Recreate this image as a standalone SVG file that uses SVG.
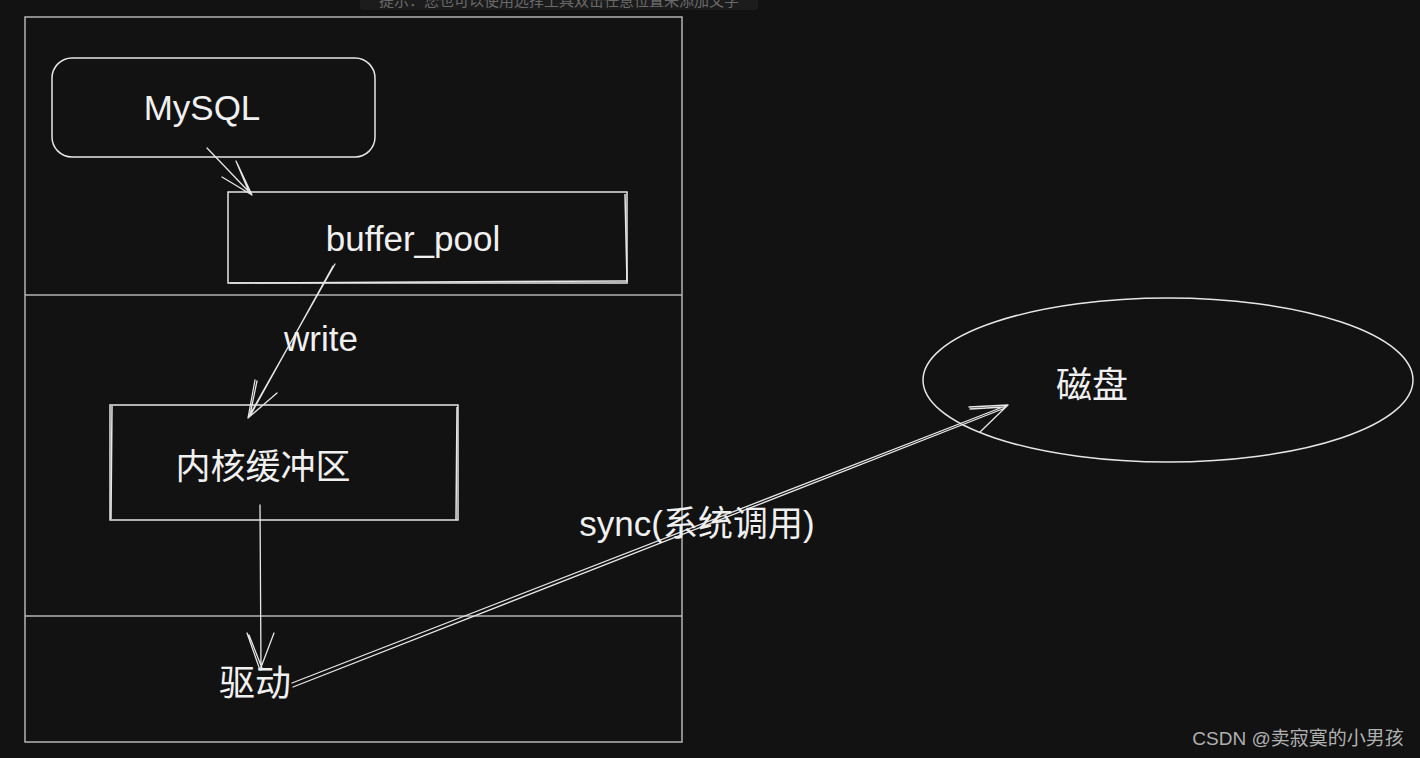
<svg xmlns="http://www.w3.org/2000/svg" width="1420" height="758" viewBox="0 0 1420 758">
<style>
.frame{fill:none;stroke:#b4b4b4;stroke-width:1.5}
.node{fill:none;stroke:#e6e6e6;stroke-width:1.5}
.edge{fill:none;stroke:#e6e6e6;stroke-width:1.3;stroke-linecap:round}
.lbl{font-family:"Liberation Sans","Noto Sans CJK SC",sans-serif;fill:#f0f0f0;text-anchor:middle}
</style>
<rect width="1420" height="758" fill="#121212"/>
<g id="tooltip">
<rect x="360" y="-20" width="398" height="30" rx="4" fill="#1c1c1c"/>
<text x="559" y="6" font-family="'Noto Sans CJK SC',sans-serif" font-size="15" fill="#6a6a6a" text-anchor="middle">提示：您也可以使用选择工具双击任意位置来添加文字</text>
</g>
<g id="frame">
<rect class="frame" x="25" y="17" width="657" height="725"/>
<line class="frame" x1="25" y1="295" x2="682" y2="295"/>
<line class="frame" x1="25" y1="616" x2="682" y2="616"/>
</g>
<g id="mysql">
<rect class="node" x="52" y="58" width="323" height="99" rx="20"/>
<text class="lbl" x="202" y="120" font-size="35">MySQL</text>
</g>
<g id="buffer_pool">
<rect class="node" x="228" y="192" width="399" height="91"/>
<path class="node" d="M230 283 L626 281 M625 194 L627 282"/>
<text class="lbl" x="413" y="251" font-size="35">buffer_pool</text>
</g>
<g id="kernel_buffer">
<rect class="node" x="110" y="405" width="348" height="115"/>
<path class="node" d="M112 406 L111 519 M457 407 L456 520"/>
<text class="lbl" x="263" y="479" font-size="35">内核缓冲区</text>
</g>
<g id="driver">
<text class="lbl" x="255" y="696" font-size="36">驱动</text>
</g>
<g id="disk">
<ellipse class="node" cx="1168" cy="380" rx="245" ry="82"/>
<text class="lbl" x="1092" y="398" font-size="36">磁盘</text>
</g>
<g id="connectors">
<path class="edge" d="M207 148 L252 195 M222 177 L252 195 M237 163 L252 195 M236 161 L249 192"/>
<path class="edge" d="M335 264 L248 418 M333 266 L250 416 M255 380 L248 418 M277 393 L248 418 M257 381 L250 415"/>
<path class="edge" d="M260 505 L261 670 M247 633 L260 670 M274 633 L260 670 M249 635 L262 668"/>
<path class="edge" d="M292 683 L1008 405 M293 687 L1005 408 M969 407 L1008 405 M980 432 L1008 405 M970 409 L1004 407"/>
</g>
<g id="labels">
<text class="lbl" x="321" y="351" font-size="35">write</text>
<text class="lbl" x="697" y="536" font-size="35">sync(系统调用)</text>
</g>
<text x="1298" y="745" font-family="'Liberation Sans','Noto Sans CJK SC',sans-serif" font-size="19" fill="#b0b0b0" text-anchor="middle">CSDN @卖寂寞的小男孩</text>
</svg>
